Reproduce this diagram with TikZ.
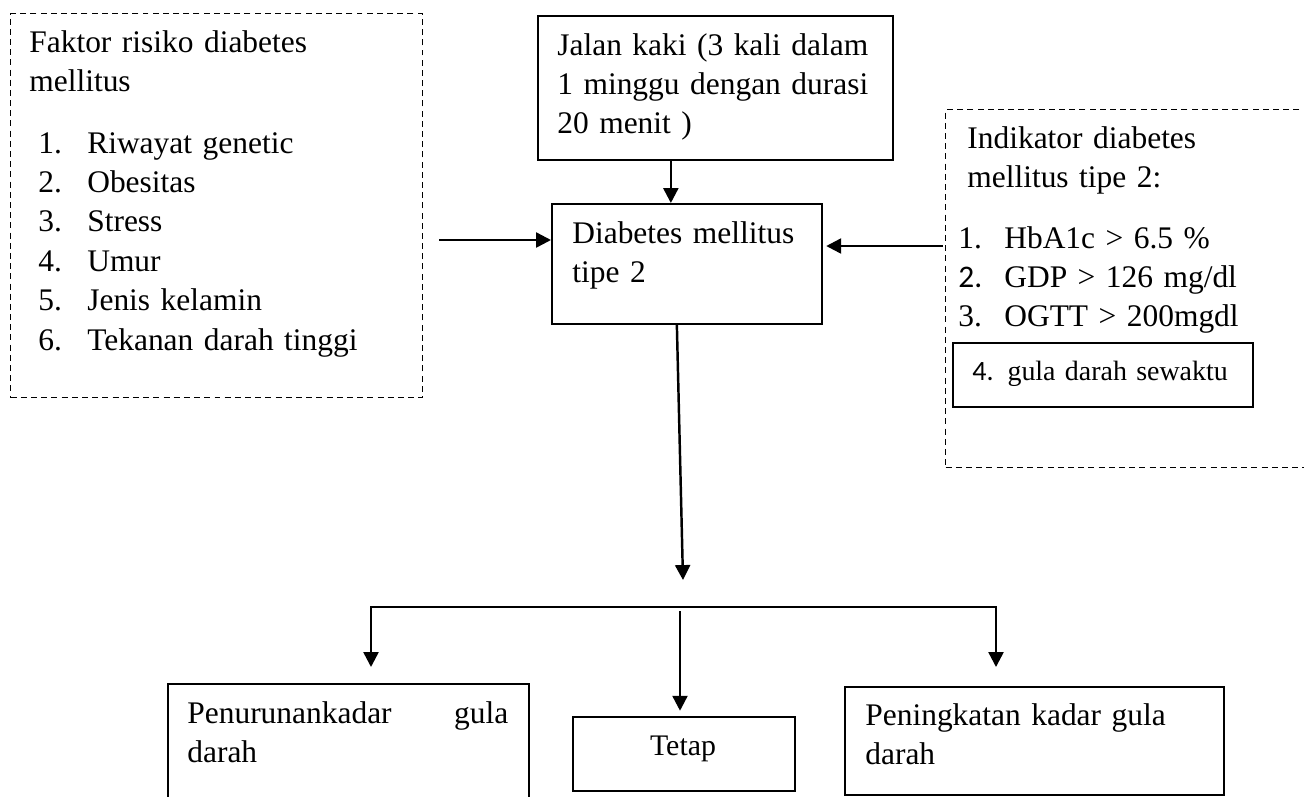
\documentclass[tikz,border=0pt]{standalone}
\usepackage{fontspec}
\setmainfont{Liberation Serif}
\newfontfamily\numfont{Carlito}
\usetikzlibrary{positioning,arrows.meta}

\begin{document}
\begin{tikzpicture}[x=0.02cm, y=-0.02cm,
  box/.style={draw, line width=1pt, anchor=north west, inner sep=0pt},
  dashbox/.style={box, line width=0.8pt, dash pattern=on 3.4pt off 2.4pt},
  txt/.style={anchor=base west, inner sep=0pt, align=left, text width=8cm,
    font=\fontsize{17.9}{22.45}\selectfont},
  arr/.style={-{Triangle[length=8.5pt, width=8.5pt]}, line width=1.4pt}
]
  \useasboundingbox (0,0) rectangle (1304,796);
  \clip (0,0) rectangle (1304,796);

  % Left: risk factors
  \node[dashbox, minimum width=8.24cm, minimum height=7.68cm] (faktor) at (10,13) {};
  \node[txt] at (29,52) {Faktor risiko diabetes\\mellitus};
  \node[txt] at (38,153) {\makebox[0.98cm][l]{1.}Riwayat genetic\\
    \makebox[0.98cm][l]{2.}Obesitas\\
    \makebox[0.98cm][l]{3.}Stress\\
    \makebox[0.98cm][l]{4.}Umur\\
    \makebox[0.98cm][l]{5.}Jenis kelamin\\
    \makebox[0.98cm][l]{6.}Tekanan darah tinggi};

  % Top: walking
  \node[box, minimum width=7.10cm, minimum height=2.88cm] (jalan) at (537,15) {};
  \node[txt] at (557,55) {Jalan kaki (3 kali dalam\\1 minggu dengan durasi\\20 menit )};

  % Centre: diabetes
  \node[box, minimum width=5.40cm, minimum height=2.40cm] (dm) at (551,203) {};
  \node[txt] at (572,243) {Diabetes mellitus\\tipe 2};

  % Right: indicators
  \node[dashbox, minimum width=7.5cm, minimum height=7.16cm] (indikator) at (945,109) {};
  \node[txt] at (967,148) {Indikator diabetes\\mellitus tipe 2:};
  \node[txt] at (958,248) {\makebox[0.92cm][l]{1.}HbA1c > 6.5 \%\\
    \makebox[0.92cm][l]{\numfont 2.}GDP > 126 mg/dl\\
    \makebox[0.92cm][l]{3.}OGTT > 200mgdl};
  \node[box, minimum width=6.00cm, minimum height=1.28cm] (sewaktu) at (952,342) {};
  \node[txt, font=\fontsize{15.9}{20}\selectfont] at (972,380) {{\numfont 4.} gula darah sewaktu};

  % Bottom: outcomes
  \node[box, minimum width=7.22cm, minimum height=2.8cm] (turun) at (167,683) {};
  \node[txt, text width=6.42cm] at (187,723) {Penurunankadar\hfill gula\\darah};
  \node[box, minimum width=4.44cm, minimum height=1.48cm] (tetap) at (572,716) {};
  \node[anchor=base, inner sep=0pt, font=\fontsize{17}{20}\selectfont] at (683,755) {Tetap};
  \node[box, minimum width=7.58cm, minimum height=2.16cm] (naik) at (844,686) {};
  \node[txt] at (865,725) {Peningkatan kadar gula\\darah};

  % Connectors
  \coordinate (faktorout) at (439,240);
  \coordinate (indout) at (943,246);
  \coordinate (hub) at (683,580);
  \coordinate (busL) at (371,607);
  \coordinate (busR) at (996,607);
  \coordinate (busM) at (680,611);

  \draw[arr] ([xshift=-0.89cm]jalan.south) -- ([xshift=-0.89cm]jalan.south |- dm.north);
  \draw[arr] (faktorout) -- (faktorout -| dm.west);
  \draw[arr, shorten >=2pt] (indout) -- (indout -| dm.east);
  \draw[arr] ([xshift=-0.2cm]dm.south) -- (hub);
  \draw[arr] (busR) -- (busL) -- ++(0,60);
  \draw[arr] (busL) -- (busR) -- ++(0,60);
  \draw[arr, shorten >=3pt] (busM) -- (busM |- tetap.north);
\end{tikzpicture}
\end{document}
